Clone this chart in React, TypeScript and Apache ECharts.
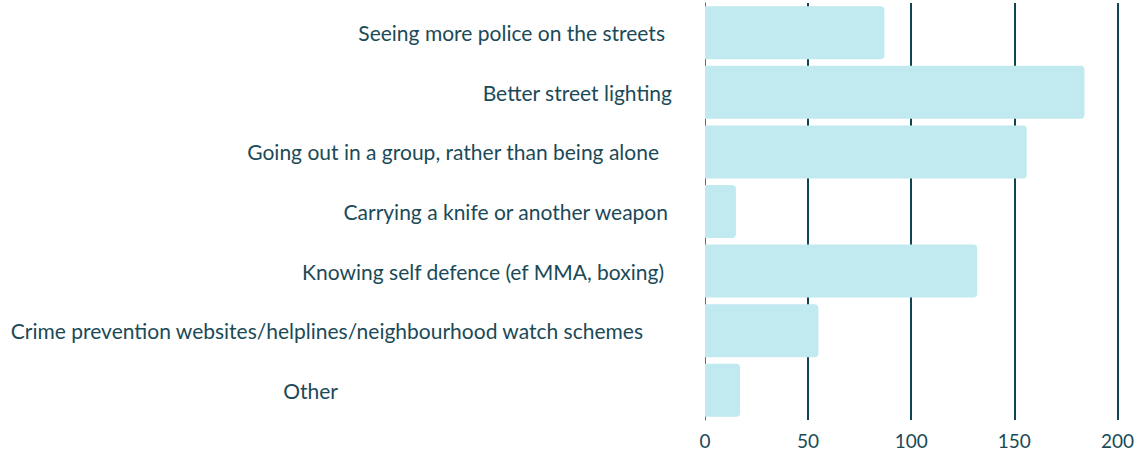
import React, { useEffect, useRef } from "react";
import * as echarts from "echarts";

const categories = [
  "Seeing more police on the streets",
  "Better street lighting",
  "Going out in a group, rather than being alone",
  "Carrying a knife or another weapon",
  "Knowing self defence (ef MMA, boxing)",
  "Crime prevention websites/helplines/neighbourhood watch schemes",
  "Other",
];
const values = [87, 184, 156, 15, 132, 55, 17];
const labelPadRight = [7, 0, 13, 4, 8, 29, 334];
const xTicks = { min: 0, max: 200, interval: 50 };

const TEXT = "#1b4a57";
const GRID = "#0f4450";
const BAR = "#c0eaf0";

export default function App() {
  const ref = useRef<HTMLDivElement>(null);
  useEffect(() => {
    const chart = echarts.init(ref.current!, null, { renderer: "svg" });
    const rich: Record<string, any> = {};
    labelPadRight.forEach((p, i) => {
      rich["p" + i] = {
        padding: [0, p, 0, 0],
        color: TEXT,
        fontFamily: "Lato",
        fontSize: 21,
      };
    });
    chart.setOption({
      animation: false,
      grid: { left: 705, right: 18, top: 3, bottom: 34, containLabel: false },
      xAxis: {
        type: "value",
        min: xTicks.min,
        max: xTicks.max,
        interval: xTicks.interval,
        axisLine: { show: false },
        axisTick: { show: false },
        axisLabel: {
          color: TEXT,
          fontFamily: "Lato",
          fontSize: 19,
          margin: 11,
        },
        splitLine: {
          show: true,
          lineStyle: {
            color: ["rgba(0,0,0,0)", GRID, GRID, GRID, GRID],
            width: 2,
          },
        },
      },
      yAxis: {
        type: "category",
        inverse: true,
        data: categories,
        axisLine: { show: true, lineStyle: { color: "#3d7884", width: 1 } },
        axisTick: { show: false },
        axisLabel: {
          margin: 33,
          color: TEXT,
          fontFamily: "Lato",
          fontSize: 21,
          formatter: (v: string, i: number) => `{p${i}|${v}}`,
          rich,
        },
      },
      series: [
        {
          type: "bar",
          data: values,
          barCategoryGap: "11%",
          itemStyle: { color: BAR, borderRadius: [0, 4, 4, 0] },
        },
      ],
    });
    return () => chart.dispose();
  }, []);
  return (
    <div
      ref={ref}
      style={{ position: "absolute", left: 0, top: 0, width: 1137, height: 454 }}
    />
  );
}
